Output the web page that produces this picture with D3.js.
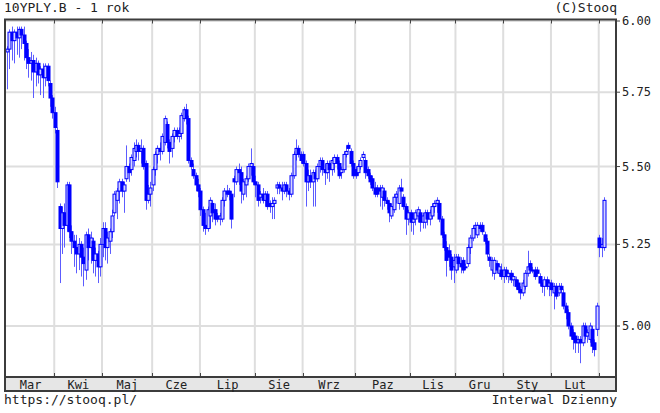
<!DOCTYPE html>
<html>
<head>
<meta charset="utf-8">
<script src="https://cdn.jsdelivr.net/npm/d3@7/dist/d3.min.js"></script>
<style>
  html, body { margin: 0; padding: 0; background: #fff; }
  svg { display: block; }
  text { font-family: "DejaVu Sans Mono", monospace; fill: #222; }
</style>
</head>
<body>
<svg id="chart"></svg>
<script>
// daily candles, one array per month: [open, high, low, close]
const mar25 = [
  [5.89,5.91,5.76,5.90],[5.90,5.97,5.83,5.96],[5.96,5.98,5.86,5.93],[5.93,5.97,5.85,5.96],
  [5.96,5.98,5.88,5.94],[5.94,5.98,5.87,5.97],[5.97,5.98,5.90,5.95],[5.95,5.98,5.86,5.92],
  [5.92,5.93,5.83,5.87],[5.87,5.90,5.80,5.85],[5.85,5.89,5.79,5.86],[5.86,5.88,5.73,5.82],
  [5.82,5.87,5.77,5.85],[5.85,5.86,5.78,5.81],[5.81,5.84,5.74,5.83],[5.83,5.85,5.73,5.80],
  [5.80,5.85,5.77,5.84],[5.84,5.85,5.77,5.79],[5.78,5.79,5.70,5.73],[5.73,5.74,5.66,5.68]
];
const apr25 = [
  [5.68,5.70,5.61,5.63],[5.62,5.63,5.43,5.45],[5.37,5.38,5.13,5.30],[5.30,5.37,5.22,5.35],
  [5.35,5.38,5.24,5.31],[5.31,5.45,5.29,5.44],[5.44,5.45,5.27,5.29],[5.29,5.31,5.22,5.26],
  [5.26,5.28,5.18,5.24],[5.24,5.28,5.16,5.22],[5.22,5.27,5.17,5.25],[5.25,5.26,5.15,5.21],
  [5.21,5.24,5.12,5.19],[5.17,5.29,5.14,5.28],[5.28,5.30,5.20,5.24],[5.24,5.29,5.19,5.27],
  [5.26,5.27,5.16,5.20],[5.20,5.24,5.15,5.22],[5.22,5.23,5.13,5.18],[5.18,5.27,5.15,5.25]
];
const may25 = [
  [5.25,5.32,5.21,5.30],[5.30,5.32,5.20,5.24],[5.24,5.29,5.19,5.27],[5.26,5.30,5.22,5.29],
  [5.29,5.36,5.27,5.34],[5.35,5.42,5.34,5.41],[5.39,5.43,5.33,5.42],[5.42,5.46,5.38,5.45],
  [5.45,5.46,5.40,5.42],[5.42,5.45,5.35,5.44],[5.46,5.57,5.45,5.50],[5.50,5.51,5.45,5.48],
  [5.49,5.54,5.47,5.53],[5.52,5.58,5.50,5.56],[5.55,5.59,5.53,5.57],[5.57,5.58,5.52,5.55],
  [5.55,5.59,5.51,5.56],[5.56,5.57,5.49,5.50],[5.51,5.52,5.36,5.39],[5.39,5.44,5.38,5.41],
  [5.41,5.45,5.37,5.43]
];
const jun25 = [
  [5.44,5.50,5.42,5.49],[5.49,5.55,5.47,5.54],[5.54,5.57,5.51,5.56],[5.56,5.58,5.52,5.55],
  [5.55,5.61,5.54,5.60],[5.58,5.67,5.57,5.66],[5.64,5.65,5.56,5.58],[5.58,5.59,5.51,5.55],
  [5.56,5.61,5.53,5.60],[5.60,5.63,5.58,5.62],[5.62,5.63,5.59,5.60],[5.60,5.63,5.58,5.61],
  [5.61,5.68,5.59,5.67],[5.66,5.70,5.65,5.69],[5.69,5.71,5.64,5.66],[5.66,5.67,5.51,5.52],
  [5.52,5.53,5.49,5.50],[5.49,5.51,5.46,5.47],[5.47,5.48,5.42,5.44],[5.44,5.46,5.40,5.42]
];
const jul25 = [
  [5.42,5.43,5.34,5.36],[5.36,5.37,5.29,5.31],[5.31,5.35,5.28,5.30],[5.30,5.37,5.29,5.36],
  [5.34,5.40,5.30,5.39],[5.38,5.39,5.32,5.35],[5.36,5.38,5.31,5.33],[5.34,5.35,5.32,5.33],
  [5.33,5.35,5.31,5.34],[5.33,5.40,5.32,5.39],[5.39,5.43,5.37,5.42],[5.42,5.44,5.40,5.41],
  [5.42,5.43,5.39,5.41],[5.41,5.42,5.30,5.33],[5.46,5.47,5.40,5.45],[5.45,5.50,5.44,5.49],
  [5.49,5.51,5.44,5.48],[5.48,5.50,5.38,5.42],[5.41,5.46,5.39,5.45],[5.44,5.47,5.40,5.46],
  [5.46,5.51,5.45,5.50],[5.50,5.56,5.47,5.51],[5.50,5.51,5.44,5.45]
];
const aug25 = [
  [5.45,5.47,5.40,5.44],[5.44,5.45,5.37,5.39],[5.40,5.42,5.38,5.41],[5.41,5.43,5.38,5.39],
  [5.39,5.42,5.37,5.41],[5.41,5.42,5.36,5.37],[5.38,5.39,5.35,5.37],[5.37,5.40,5.33,5.38],
  [5.38,5.40,5.33,5.39],[5.43,5.45,5.41,5.44],[5.44,5.45,5.41,5.43],[5.43,5.45,5.39,5.42],
  [5.42,5.45,5.41,5.44],[5.44,5.45,5.40,5.42],[5.42,5.43,5.39,5.41],[5.41,5.48,5.40,5.47],
  [5.47,5.55,5.46,5.54],[5.54,5.59,5.52,5.56],[5.56,5.57,5.53,5.54],[5.54,5.55,5.51,5.52]
];
const sep25 = [
  [5.54,5.55,5.50,5.51],[5.51,5.52,5.37,5.45],[5.45,5.49,5.42,5.47],[5.47,5.49,5.43,5.45],
  [5.45,5.49,5.37,5.48],[5.48,5.49,5.37,5.46],[5.46,5.51,5.45,5.50],[5.50,5.53,5.48,5.52],
  [5.52,5.53,5.47,5.49],[5.49,5.51,5.44,5.48],[5.48,5.52,5.46,5.51],[5.51,5.52,5.45,5.49],
  [5.49,5.53,5.47,5.52],[5.51,5.54,5.48,5.53],[5.53,5.54,5.49,5.51],[5.51,5.52,5.46,5.47],
  [5.48,5.50,5.46,5.49],[5.49,5.55,5.48,5.54],[5.54,5.57,5.53,5.55],[5.57,5.58,5.55,5.56],
  [5.55,5.56,5.50,5.51],[5.51,5.52,5.46,5.47]
];
const oct25 = [
  [5.49,5.50,5.46,5.47],[5.48,5.51,5.47,5.50],[5.50,5.53,5.49,5.52],[5.53,5.55,5.52,5.54],
  [5.52,5.53,5.46,5.48],[5.49,5.50,5.46,5.47],[5.47,5.48,5.44,5.45],[5.46,5.47,5.42,5.43],
  [5.43,5.45,5.40,5.41],[5.43,5.44,5.40,5.41],[5.43,5.44,5.37,5.42],[5.40,5.44,5.36,5.43],
  [5.42,5.43,5.37,5.39],[5.39,5.40,5.36,5.38],[5.38,5.39,5.32,5.35],[5.34,5.38,5.33,5.37],
  [5.36,5.41,5.35,5.40],[5.40,5.42,5.38,5.41],[5.38,5.44,5.36,5.43],[5.43,5.46,5.42,5.42],
  [5.40,5.41,5.36,5.37],[5.37,5.38,5.28,5.33],[5.33,5.36,5.31,5.35]
];
const nov25 = [
  [5.35,5.36,5.29,5.32],[5.32,5.35,5.28,5.33],[5.33,5.36,5.31,5.35],[5.34,5.37,5.32,5.36],
  [5.35,5.36,5.29,5.32],[5.32,5.35,5.30,5.34],[5.32,5.36,5.30,5.35],[5.35,5.36,5.31,5.33],
  [5.33,5.36,5.31,5.35],[5.34,5.38,5.33,5.37],[5.37,5.39,5.35,5.38],[5.38,5.40,5.35,5.39],
  [5.38,5.39,5.32,5.33],[5.33,5.34,5.27,5.28],[5.28,5.29,5.23,5.24],[5.24,5.26,5.15,5.20],
  [5.23,5.25,5.18,5.21],[5.21,5.22,5.14,5.17],[5.18,5.22,5.13,5.20]
];
const dec25 = [
  [5.17,5.22,5.16,5.21],[5.21,5.22,5.17,5.19],[5.19,5.21,5.16,5.18],[5.20,5.21,5.16,5.17],
  [5.18,5.19,5.17,5.18],[5.19,5.25,5.18,5.24],[5.24,5.28,5.22,5.27],[5.27,5.31,5.26,5.30],
  [5.30,5.32,5.28,5.31],[5.28,5.32,5.27,5.31],[5.31,5.32,5.29,5.30],[5.31,5.32,5.28,5.29],
  [5.28,5.29,5.25,5.26],[5.26,5.27,5.21,5.22],[5.21,5.22,5.18,5.20],[5.17,5.21,5.15,5.20],
  [5.16,5.21,5.14,5.20],[5.19,5.20,5.16,5.17],[5.16,5.19,5.15,5.18],[5.17,5.19,5.14,5.15]
];
const jan26 = [
  [5.15,5.18,5.13,5.17],[5.17,5.18,5.14,5.15],[5.15,5.17,5.13,5.16],[5.16,5.17,5.13,5.14],
  [5.14,5.16,5.12,5.15],[5.14,5.15,5.11,5.12],[5.13,5.14,5.10,5.11],[5.11,5.12,5.08,5.10],
  [5.10,5.14,5.09,5.13],[5.12,5.17,5.11,5.16],[5.16,5.23,5.15,5.18],[5.19,5.20,5.16,5.17],
  [5.17,5.18,5.16,5.17],[5.17,5.18,5.14,5.15],[5.17,5.18,5.15,5.16],[5.15,5.16,5.12,5.13],
  [5.13,5.14,5.10,5.12],[5.12,5.15,5.09,5.14],[5.14,5.15,5.11,5.12],[5.12,5.14,5.09,5.13]
];
const feb26 = [
  [5.13,5.14,5.09,5.11],[5.10,5.13,5.05,5.12],[5.12,5.13,5.08,5.09],[5.10,5.13,5.09,5.12],
  [5.12,5.13,5.10,5.11],[5.10,5.11,5.05,5.06],[5.06,5.07,5.02,5.04],[5.04,5.05,4.99,5.00],
  [5.00,5.01,4.96,4.97],[4.98,4.99,4.93,4.96],[4.97,4.98,4.92,4.95],[4.95,4.97,4.92,4.96],
  [4.96,4.97,4.89,4.95],[4.95,5.01,4.94,5.00],[5.00,5.01,4.96,4.97],[4.97,4.99,4.95,4.98],
  [4.96,5.01,4.95,5.00],[4.99,5.00,4.92,4.94],[4.95,4.96,4.91,4.93],[4.99,5.07,4.97,5.06]
];
const mar26 = [
  [5.27,5.28,5.21,5.24],[5.24,5.27,5.21,5.25],[5.24,5.40,5.23,5.39]
];

const monthLabels = ["Mar", "Kwi", "Maj", "Cze", "Lip", "Sie", "Wrz", "Paz", "Lis", "Gru", "Sty", "Lut", "Mar"];
const monthData = [mar25, apr25, may25, jun25, jul25, aug25, sep25, oct25, nov25, dec25, jan26, feb26, mar26];
const yTicks = [5.00, 5.25, 5.50, 5.75, 6.00];

const titleText = "10YPLY.B - 1 rok";
const copyText = "(C)Stooq";
const urlText = "https://stooq.pl/";
const intervalText = "Interwal Dzienny";

class CandleChart {
    constructor(_config) {
        this.config = {
            parentElement: _config.parentElement,
            containerWidth: _config.containerWidth || 660,
            containerHeight: _config.containerHeight || 413,
            plot: _config.plot
        };
        this.initVis();
    }

    initVis() {
        let vis = this;
        const p = vis.config.plot;

        vis.svg = d3.select(vis.config.parentElement)
            .attr("width", vis.config.containerWidth)
            .attr("height", vis.config.containerHeight);

        // flatten months into one candle list, remembering where each month starts
        vis.candles = [];
        vis.months = [];
        monthData.forEach((m, mi) => {
            vis.months.push({ label: monthLabels[mi], start: vis.candles.length, count: m.length });
            m.forEach(d => vis.candles.push({ o: d[0], h: d[1], l: d[2], c: d[3] }));
        });

        vis.x = d3.scaleLinear()
            .domain([0, vis.candles.length - 1])
            .range([p.firstX, p.lastX]);

        // stooq draws this chart on a log price axis
        vis.y = d3.scaleLog()
            .domain([5, 6])
            .range([326, 21]);
    }

    renderVis() {
        const vis = this;
        const p = vis.config.plot;

        // bottom month band
        vis.svg.append("rect")
            .attr("x", p.left).attr("y", p.bottom)
            .attr("width", p.right - p.left).attr("height", p.band - p.bottom)
            .attr("fill", "#e6e6e6");

        // grid
        const gridMonths = vis.months.slice(1);
        vis.svg.append("g")
            .selectAll("line")
            .data(gridMonths)
            .join("line")
            .attr("x1", d => vis.x(d.start) - 0.5).attr("x2", d => vis.x(d.start) - 0.5)
            .attr("y1", p.top).attr("y2", p.bottom)
            .attr("stroke", "#dedede").attr("stroke-width", 2);

        vis.svg.append("g")
            .selectAll("line")
            .data(yTicks)
            .join("line")
            .attr("x1", p.left).attr("x2", p.right)
            .attr("y1", d => vis.y(d)).attr("y2", d => vis.y(d))
            .attr("stroke", "#dedede").attr("stroke-width", 2);

        // candles
        const g = vis.svg.append("g");
        g.selectAll("line")
            .data(vis.candles)
            .join("line")
            .attr("x1", (d, i) => Math.round(vis.x(i)) + 0.5)
            .attr("x2", (d, i) => Math.round(vis.x(i)) + 0.5)
            .attr("y1", d => vis.y(d.h)).attr("y2", d => vis.y(d.l))
            .attr("stroke", "#5c5cff").attr("stroke-width", 1);

        g.selectAll("rect")
            .data(vis.candles)
            .join("rect")
            .attr("x", (d, i) => Math.round(vis.x(i)) - 1)
            .attr("width", 3)
            .attr("y", d => vis.y(Math.max(d.o, d.c)))
            .attr("height", d => Math.max(1, Math.abs(vis.y(d.o) - vis.y(d.c))))
            .attr("fill", d => d.c >= d.o ? "#d4d4ff" : "#0000ff")
            .attr("stroke", "#0000ff").attr("stroke-width", 1);

        // month ticks on top and bottom edges
        const ticks = vis.svg.append("g").attr("stroke", "#444").attr("stroke-width", 1);
        gridMonths.forEach(d => {
            const xx = Math.round(vis.x(d.start) - 0.5) + 0.5;
            ticks.append("line").attr("x1", xx).attr("x2", xx).attr("y1", p.top).attr("y2", p.top + 4);
            ticks.append("line").attr("x1", xx).attr("x2", xx).attr("y1", p.bottom - 4).attr("y2", p.bottom);
        });
        yTicks.forEach(v => {
            ticks.append("line").attr("x1", p.right).attr("x2", p.right + 4)
                .attr("y1", vis.y(v)).attr("y2", vis.y(v));
        });

        // frame
        const frame = vis.svg.append("g").attr("fill", "none").attr("stroke", "#3c3c3c").attr("stroke-width", 2);
        frame.append("rect")
            .attr("x", p.left).attr("y", p.top)
            .attr("width", p.right - p.left).attr("height", p.band - p.top);
        frame.append("line")
            .attr("x1", p.left).attr("x2", p.right)
            .attr("y1", p.bottom).attr("y2", p.bottom);

        // labels
        vis.svg.append("g")
            .selectAll("text")
            .data(yTicks)
            .join("text")
            .attr("x", p.right + 6)
            .attr("y", d => vis.y(d) + 4)
            .attr("font-size", 12)
            .text(d => d.toFixed(2));

        vis.svg.append("g")
            .selectAll("text")
            .data(vis.months.filter(d => d.count >= 5))
            .join("text")
            .attr("x", d => (vis.x(d.start) + vis.x(d.start + d.count - 1)) / 2 + 1)
            .attr("y", 389)
            .attr("text-anchor", "middle")
            .attr("font-size", 12)
            .text(d => d.label);

        vis.svg.append("text").attr("x", 4).attr("y", 12).attr("font-size", 13).text(titleText);
        vis.svg.append("text").attr("x", 617).attr("y", 12).attr("font-size", 13)
            .attr("text-anchor", "end").text(copyText);
        vis.svg.append("text").attr("x", 4).attr("y", 404).attr("font-size", 13).text(urlText);
        vis.svg.append("text").attr("x", 617).attr("y", 404).attr("font-size", 13)
            .attr("text-anchor", "end").text(intervalText);
    }
}

const chart = new CandleChart({
    parentElement: "#chart",
    plot: { left: 5, right: 616, top: 19.5, bottom: 377, band: 391, firstX: 7, lastX: 604 }
});
chart.renderVis();
</script>
</body>
</html>
